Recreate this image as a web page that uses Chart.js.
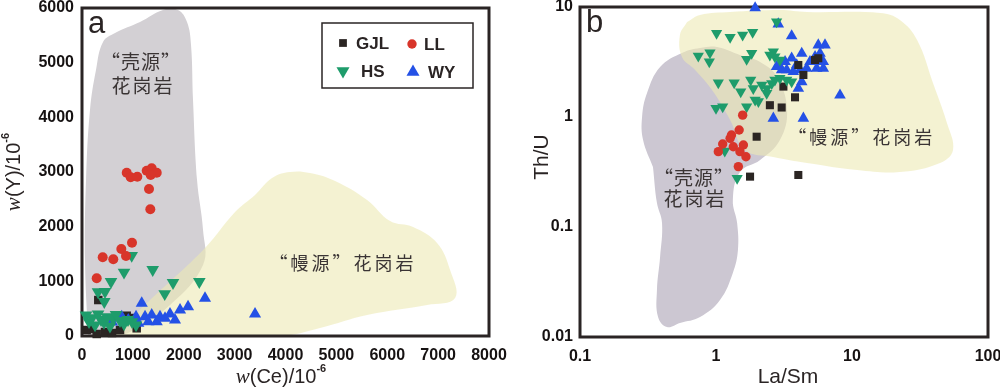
<!DOCTYPE html>
<html>
<head>
<meta charset="utf-8">
<script src="https://cdn.jsdelivr.net/npm/chart.js@4.4.1/dist/chart.umd.min.js"></script>
<style>
  html, body { margin: 0; padding: 0; background: #fff; }
  #wrap { position: relative; width: 1000px; height: 390px; overflow: hidden; }
  #chartA { position: absolute; left: 0; top: 0; }
  #chartB { position: absolute; left: 500px; top: 0; }
</style>
</head>
<body>
<div id="wrap">
  <canvas id="chartA" width="520" height="390"></canvas>
  <canvas id="chartB" width="500" height="390"></canvas>
</div>
<script>
const SANS = '"Liberation Sans", Arial, sans-serif';
const SERIF = '"Liberation Serif", "Times New Roman", serif';
const CJK = '"Noto Sans CJK SC", sans-serif';
const INK = '#2a2424';

// ---- panel a : w(Ce) vs w(Y), both in 10^-6 ----
const ceTicks = [0, 1000, 2000, 3000, 4000, 5000, 6000, 7000, 8000];
const yTicks = [0, 1000, 2000, 3000, 4000, 5000, 6000];

const gjlA = [[320,658],[92,110],[190,128],[289,37],[879,371],[944,329],[1075,141],[452,73],[590,55],[747,110]];
const llA = [[879,2987],[957,2903],[1087,2914],[1272,3023],[1370,3067],[1469,2987],[1351,2945],[1317,2689],
  [1343,2318],[983,1706],[773,1591],[865,1463],[615,1403],[407,1439],[289,1055]];
const hsA = [[977,1472],[826,1165],[1390,1213],[570,993],[1789,975],[2306,993],[1626,772],[315,805],[452,810],
  [438,627],[79,380],[138,260],[197,330],[256,200],[315,400],[374,300],[433,250],[492,350],[550,180],[609,320],
  [668,390],[747,280],[826,220],[904,300],[983,260],[1062,200]];
const wyA = [[590,256],[668,329],[781,353],[910,293],[1062,353],[1107,232],[1174,598],[1239,353],[1303,262],
  [1370,384],[1469,262],[1533,353],[1632,324],[1730,402],[1828,293],[1927,476],[2084,536],[2418,690],[3401,402]];

// field outlines
const crustA = [[118,0],[59,1390],[79,2853],[157,4134],[275,4865],[413,5377],[649,5542],[1140,5743],[1592,5963],
  [1887,5963],[2064,5743],[2143,5322],[2182,4316],[2261,2853],[2379,1939],[2379,1299],[1730,567],[944,73],[550,0]];
const mantleA = [[590,0],[1337,658],[2418,1610],[3008,2268],[3401,2579],[3735,2890],[4089,3000],[4482,2981],
  [4974,2835],[5603,2487],[6055,2103],[6507,1994],[6979,1701],[7235,1207],[7333,695],[6783,567],[5603,384],
  [4679,146],[3893,0]];

// ---- panel b : La/Sm vs Th/U (log-log) ----
const laSmTicks = [0.1, 1, 10, 100];
const thUTicks = [0.01, 0.1, 1, 10];

const gjlB = [[1.99,0.662],[1.78,0.287],[4.03,0.297],[3.13,1.89],[3.81,1.51],[2.49,1.28],[3.04,1.22],
  [4.03,2.97],[5.35,3.30],[4.39,2.41],[5.65,3.42]];
const llB = [[1.57,1.04],[1.48,0.762],[1.30,0.686],[1.27,0.640],[1.12,0.568],[1.04,0.484],[1.34,0.537],
  [1.59,0.556],[1.50,0.484],[1.66,0.435],[1.46,0.354]];
const hsB = [[1.01,5.76],[1.27,5.30],[1.57,5.56],[1.86,5.89],[0.741,3.59],[0.903,3.84],[0.893,3.18],[1.68,3.35],
  [1.83,3.79],[1.04,2.05],[1.36,2.05],[1.52,1.70],[1.80,2.17],[1.88,1.82],[1.00,1.20],[1.12,1.24],[1.68,1.24],
  [1.94,1.43],[1.16,0.491],[1.43,0.277],[2.79,7.35],[2.64,3.92],[2.71,3.53],[2.49,3.66],[2.95,3.30],[2.17,1.95],
  [2.36,1.82],[2.57,2.02],[2.71,2.17],[2.95,2.25],[3.31,2.17],[3.60,2.09],[2.05,1.38],[2.36,1.64]];
const wyB = [[1.94,9.8],[2.87,7.00],[3.60,5.45],[5.65,4.51],[6.33,4.51],[8.16,1.58],[4.39,0.973],[2.64,0.973],
  [2.95,2.87],[3.22,3.18],[3.60,3.42],[4.27,3.79],[4.91,3.18],[5.35,3.53],[5.82,3.79],[6.15,3.18],[6.15,2.77],
  [5.50,2.77],[4.64,2.77],[4.15,2.68],[3.70,2.58],[3.31,2.68],[3.04,2.68],[4.27,2.09],[4.03,1.82],[3.92,2.97],
  [2.79,2.87]];

const crustB = [[0.344,0.351],[0.291,0.618],[0.286,1.0],[0.311,1.65],[0.388,2.85],[0.562,3.82],[0.763,4.24],
  [1.017,4.33],[1.50,3.66],[2.11,3.16],[2.81,2.31],[3.33,1.16],[2.95,0.618],[2.11,0.406],[1.50,0.316],[1.33,0.176],
  [1.43,0.109],[1.45,0.0618],[1.33,0.0382],[1.07,0.0217],[0.763,0.0152],[0.543,0.0134],[0.436,0.0123],
  [0.375,0.0152],[0.368,0.0268],[0.388,0.0534],[0.401,0.109],[0.368,0.165]];
const mantleB = [[0.613,7.31],[0.763,8.46],[1.27,9.0],[2.95,9.39],[4.67,9.0],[16.1,8.82],[22.5,7.62],[30.1,5.01],
  [39.4,2.04],[49.9,0.882],[55.3,0.501],[44.4,0.382],[22.5,0.316],[10.9,0.330],[4.67,0.382],[2.63,0.433],
  [1.63,0.501],[1.27,0.940],[0.935,1.76],[0.702,2.68],[0.562,3.51],[0.543,5.56]];

const seriesNames = ['GJL', 'LL', 'HS', 'WY'];
const seriesColors = ['#2b2523', '#d8352a', '#1e9c6b', '#2451e6'];
const seriesStyles = ['rect', 'circle', 'triangle', 'triangle'];
const seriesRotation = [0, 0, 180, 0];

function pts(arr) {
  return arr.map(p => ({ x: p[0], y: p[1] }));
}

function regionSet(arr, color, order, extra) {
  return Object.assign({
    data: pts(arr.concat([arr[0]])),
    showLine: true,
    fill: 'shape',
    tension: 0.4,
    pointRadius: 0,
    borderWidth: 0,
    backgroundColor: color,
    order: order
  }, extra || {});
}

function pointSet(i, arr, radius, order) {
  return {
    label: seriesNames[i],
    data: pts(arr),
    pointStyle: seriesStyles[i],
    rotation: seriesRotation[i],
    pointRadius: radius,
    backgroundColor: seriesColors[i],
    borderColor: seriesColors[i],
    borderWidth: 0,
    showLine: false,
    clip: false,
    order: order
  };
}

function drawMarker(ctx, i, x, y, r) {
  ctx.fillStyle = seriesColors[i];
  ctx.beginPath();
  if (seriesStyles[i] === 'rect') {
    const s = r * Math.SQRT1_2;
    ctx.rect(x - s, y - s, 2 * s, 2 * s);
  } else if (seriesStyles[i] === 'circle') {
    ctx.arc(x, y, r, 0, Math.PI * 2);
  } else {
    let a = seriesRotation[i] * Math.PI / 180;
    for (let k = 0; k < 3; k++) {
      const px = x + Math.sin(a) * r, py = y - Math.cos(a) * r;
      if (k === 0) ctx.moveTo(px, py); else ctx.lineTo(px, py);
      a += Math.PI * 2 / 3;
    }
    ctx.closePath();
  }
  ctx.fill();
}

function drawRich(ctx, parts, cx, cy, rot) {
  ctx.save();
  ctx.translate(cx, cy);
  if (rot) ctx.rotate(rot);
  let total = 0;
  parts.forEach(p => { ctx.font = p.font; p.w = ctx.measureText(p.t).width; total += p.w; });
  let x = -total / 2;
  ctx.textAlign = 'left';
  ctx.textBaseline = 'middle';
  ctx.fillStyle = INK;
  parts.forEach(p => { ctx.font = p.font; ctx.fillText(p.t, x, p.dy || 0); x += p.w; });
  ctx.restore();
}

// frame + field names, drawn right after the field fills so the symbols sit on top
const panelPlugin = {
  id: 'panelDecor',
  afterDatasetDraw(chart, args, opts) {
    if (!chart.data.datasets[args.index].decorAfter) return;
    const { ctx, chartArea: a, scales } = chart;
    ctx.save();
    ctx.fillStyle = '#3a3434';
    ctx.textAlign = 'center';
    ctx.textBaseline = 'middle';
    opts.labels.forEach(l => {
      ctx.font = l.size + 'px ' + CJK;
      ctx.letterSpacing = l.spacing + 'px';
      ctx.fillText(l.text, scales.x.getPixelForValue(l.x), scales.y.getPixelForValue(l.y));
    });
    ctx.letterSpacing = '0px';
    ctx.strokeStyle = INK;
    ctx.lineWidth = 3;
    ctx.strokeRect(a.left, a.top, a.right - a.left, a.bottom - a.top);
    ctx.fillStyle = INK;
    ctx.font = '31px ' + SANS;
    ctx.textAlign = 'left';
    ctx.textBaseline = 'alphabetic';
    ctx.fillText(opts.letter, a.left + 6, a.top + 25);
    ctx.restore();
  },
  afterDraw(chart, args, opts) {
    const ctx = chart.ctx;
    drawRich(ctx, opts.xTitle, opts.xTitlePos[0], opts.xTitlePos[1], 0);
    drawRich(ctx, opts.yTitle, opts.yTitlePos[0], opts.yTitlePos[1], -Math.PI / 2);
    if (opts.legend) {
      const L = opts.legend;
      ctx.save();
      ctx.strokeStyle = INK;
      ctx.lineWidth = 1.5;
      ctx.strokeRect(L.box[0], L.box[1], L.box[2], L.box[3]);
      ctx.font = 'bold 17px ' + SANS;
      ctx.textBaseline = 'middle';
      ctx.textAlign = 'left';
      L.items.forEach(it => {
        drawMarker(ctx, it.i, it.mx, it.my, it.r);
        ctx.fillStyle = INK;
        ctx.fillText(seriesNames[it.i], it.tx, it.my + 1);
      });
      ctx.restore();
    }
  }
};

function scaleOpts(type, min, max, tickVals, size, pad, fmt) {
  return {
    type: type,
    min: min,
    max: max,
    grid: { display: false, drawTicks: false },
    border: { display: false },
    title: { display: false },
    afterBuildTicks: s => { s.ticks = tickVals.map(v => ({ value: v })); },
    afterFit: s => {
      if (s.isHorizontal()) s.height = size; else s.width = size;
      s.paddingLeft = 0; s.paddingRight = 0; s.paddingTop = 0; s.paddingBottom = 0;
    },
    ticks: {
      autoSkip: false,
      maxRotation: 0,
      padding: pad,
      color: '#161212',
      font: { family: SANS, size: 16, weight: 'bold' },
      callback: fmt || (v => String(v))
    }
  };
}

const chartA = new Chart(document.getElementById('chartA'), {
  type: 'scatter',
  data: {
    datasets: [
      pointSet(3, wyA, 7, 3),
      pointSet(2, hsA, 7.3, 2),
      pointSet(1, llA, 5, 1),
      pointSet(0, gjlA, 6, 4),
      regionSet(mantleA, 'rgba(236,234,180,0.6)', 8, { decorAfter: true }),
      regionSet(crustA, '#d3d0d4', 9)
    ]
  },
  options: {
    responsive: false,
    devicePixelRatio: 1,
    animation: false,
    layout: { padding: { left: 0, right: 31, top: 8, bottom: 0 } },
    scales: {
      x: scaleOpts('linear', 0, 8000, ceTicks, 54, 10),
      y: scaleOpts('linear', 0, 6000, yTicks, 82, 8)
    },
    plugins: {
      legend: { display: false },
      tooltip: { enabled: false },
      panelDecor: {
        letter: 'a',
        labels: [
          { text: '“壳源”', x: 1160, y: 5011, size: 19, spacing: 1 },
          { text: '花岗岩', x: 1199, y: 4573, size: 19, spacing: 2 },
          { text: '“幔源”花岗岩', x: 5131, y: 1335, size: 18, spacing: 3 }
        ],
        xTitle: [
          { t: 'w', font: 'italic 21px ' + SERIF },
          { t: '(Ce)/10', font: '20px ' + SANS },
          { t: '-6', font: 'bold 11px ' + SANS, dy: -8 }
        ],
        xTitlePos: [281, 377],
        yTitle: [
          { t: 'w', font: 'italic 21px ' + SERIF },
          { t: '(Y)/10', font: '20px ' + SANS },
          { t: '-6', font: 'bold 11px ' + SANS, dy: -8 }
        ],
        yTitlePos: [14, 172],
        legend: {
          box: [322, 23, 151, 65],
          items: [
            { i: 0, mx: 343, my: 43, r: 5.5, tx: 356 },
            { i: 1, mx: 412, my: 44, r: 4.7, tx: 424 },
            { i: 2, mx: 343, my: 71, r: 7.5, tx: 361 },
            { i: 3, mx: 413, my: 72, r: 7.5, tx: 428 }
          ]
        }
      }
    }
  },
  plugins: [panelPlugin]
});

const chartB = new Chart(document.getElementById('chartB'), {
  type: 'scatter',
  data: {
    datasets: [
      pointSet(2, hsB, 6.5, 1),
      pointSet(0, gjlB, 5.7, 2),
      pointSet(3, wyB, 6.7, 3),
      pointSet(1, llB, 4.7, 0),
      regionSet(mantleB, 'rgba(236,234,180,0.6)', 8, { decorAfter: true }),
      regionSet(crustB, '#ccc7d2', 9)
    ]
  },
  options: {
    responsive: false,
    devicePixelRatio: 1,
    animation: false,
    layout: { padding: { left: 0, right: 12, top: 7, bottom: 0 } },
    scales: {
      x: scaleOpts('logarithmic', 0.1, 100, laSmTicks, 53, 10),
      y: scaleOpts('logarithmic', 0.01, 10, thUTicks, 80, 7)
    },
    plugins: {
      legend: { display: false },
      tooltip: { enabled: false },
      panelDecor: {
        letter: 'b',
        labels: [
          { text: '“幔源”花岗岩', x: 11.8, y: 0.651, size: 18, spacing: 3 },
          { text: '“壳源”', x: 0.689, y: 0.279, size: 19, spacing: 1 },
          { text: '花岗岩', x: 0.70, y: 0.180, size: 19, spacing: 2 }
        ],
        xTitle: [{ t: 'La/Sm', font: '21px ' + SANS }],
        xTitlePos: [288, 377],
        yTitle: [{ t: 'Th/U', font: '21px ' + SANS }],
        yTitlePos: [42, 157]
      }
    }
  },
  plugins: [panelPlugin]
});
</script>
</body>
</html>
